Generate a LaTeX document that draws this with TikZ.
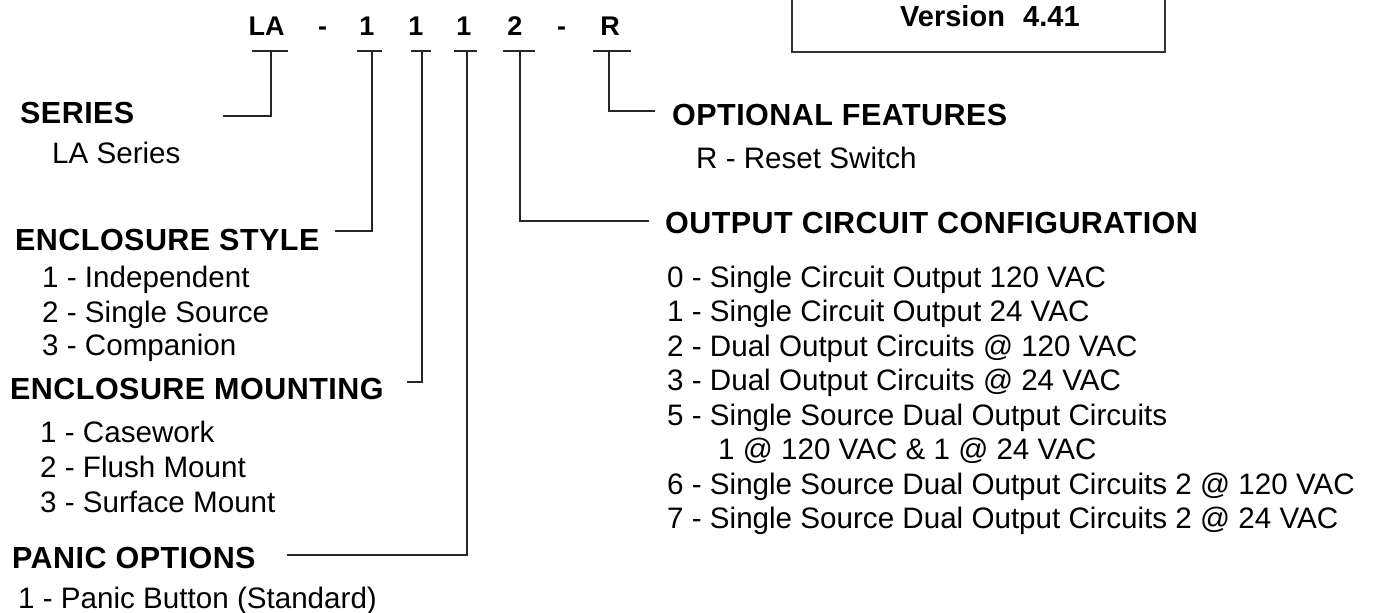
\documentclass[tikz,border=0pt]{standalone}
\usepackage{fontspec}
\setmainfont{Liberation Sans}
\newfontfamily\headfont[LetterSpace=1.5]{Liberation Sans}
\begin{document}
\begin{tikzpicture}[x=1pt,y=-1pt,
  head/.style={anchor=base west,inner sep=0pt,font=\headfont\fontsize{30.5}{34}\selectfont\bfseries},
  item/.style={anchor=base west,inner sep=0pt,font=\fontsize{29.6}{34}\selectfont},
  code/.style={anchor=base,inner sep=0pt,font=\fontsize{27}{30}\selectfont\bfseries},
  conn/.style={draw=black!85,line width=1.6pt},
  bar/.style={draw=black!85,line width=1.6pt}]
\useasboundingbox (0,0) rectangle (1377,613);

% version box
\draw[black!80,line width=1.8pt] (792,-5) rectangle (1165,52);
\node[anchor=base west,inner sep=0pt,font=\fontsize{29}{32}\selectfont\bfseries] (ver) at (900,27) {Version};
\node[anchor=base west,inner sep=0pt,font=\fontsize{29}{32}\selectfont\bfseries] (vnum) at (1023,27) {4.41};

% code letters
\node[code] (cLA) at (266.5,35) {LA};
\node[code] (cd1) at (322.5,35) {-};
\node[code] (c1a) at (367,35) {1};
\node[code] (c1b) at (416,35) {1};
\node[code] (c1c) at (464,35) {1};
\node[code] (c2) at (515,35) {2};
\node[code] (cd2) at (561.5,35) {-};
\node[code] (cR) at (610,35) {R};

% bars
\draw[bar] (252,51) -- (288,51);
\draw[bar] (357,51) -- (382,51);
\draw[bar] (411,51) -- (431,51);
\draw[bar] (454,51) -- (477,51);
\draw[bar] (503,51) -- (535,51);
\draw[bar] (593,51) -- (631,51);

\coordinate (tLA) at (271,51);
\coordinate (t1a) at (372,51);
\coordinate (t1b) at (422,51);
\coordinate (t1c) at (467,51);
\coordinate (t2) at (520,51);
\coordinate (tR) at (609,51);

% left headings and items
\node[head] (series) at (20,123) {SERIES};
\node[item] (laser) at (52,163) {LA Series};

\node[head] (estyle) at (15,250) {ENCLOSURE STYLE};
\node[item] (es1) at (42,287) {1 - Independent};
\node[item] (es2) at (42,322) {2 - Single Source};
\node[item] (es3) at (42,355) {3 - Companion};

\node[head] (emount) at (10,399) {ENCLOSURE MOUNTING};
\node[item] (em1) at (40,442) {1 - Casework};
\node[item] (em2) at (40,477) {2 - Flush Mount};
\node[item] (em3) at (40,512) {3 - Surface Mount};

\node[head] (panic) at (12,568) {PANIC OPTIONS};
\node[item] (p1) at (18,608) {1 - Panic Button (Standard)};

% right headings and items
\node[head] (opt) at (672,125) {OPTIONAL FEATURES};
\node[item] (opt1) at (696,168) {R - Reset Switch};

\node[head] (occ) at (665,233) {OUTPUT CIRCUIT CONFIGURATION};
\node[item] (o0) at (667,287) {0 - Single Circuit Output 120 VAC};
\node[item] (o1) at (667,321.5) {1 - Single Circuit Output 24 VAC};
\node[item] (o2) at (667,356) {2 - Dual Output Circuits @ 120 VAC};
\node[item] (o3) at (667,390.5) {3 - Dual Output Circuits @ 24 VAC};
\node[item] (o5) at (667,425) {5 - Single Source Dual Output Circuits};
\node[item] (o5b) at (718,459.5) {1 @ 120 VAC \& 1 @ 24 VAC};
\node[item] (o6) at (667,494) {6 - Single Source Dual Output Circuits 2 @ 120 VAC};
\node[item] (o7) at (667,528.5) {7 - Single Source Dual Output Circuits 2 @ 24 VAC};

% connector ends
\coordinate (eSeries) at (223,116);
\coordinate (eStyle) at (335,231);
\coordinate (eMount) at (407,382);
\coordinate (ePanic) at (287,555);
\coordinate (eOcc) at (649,221);
\coordinate (eOpt) at (655,111);

\draw[conn] (tLA) |- (eSeries);
\draw[conn] (t1a) |- (eStyle);
\draw[conn] (t1b) |- (eMount);
\draw[conn] (t1c) |- (ePanic);
\draw[conn] (t2) |- (eOcc);
\draw[conn] (tR) |- (eOpt);
\end{tikzpicture}
\end{document}
